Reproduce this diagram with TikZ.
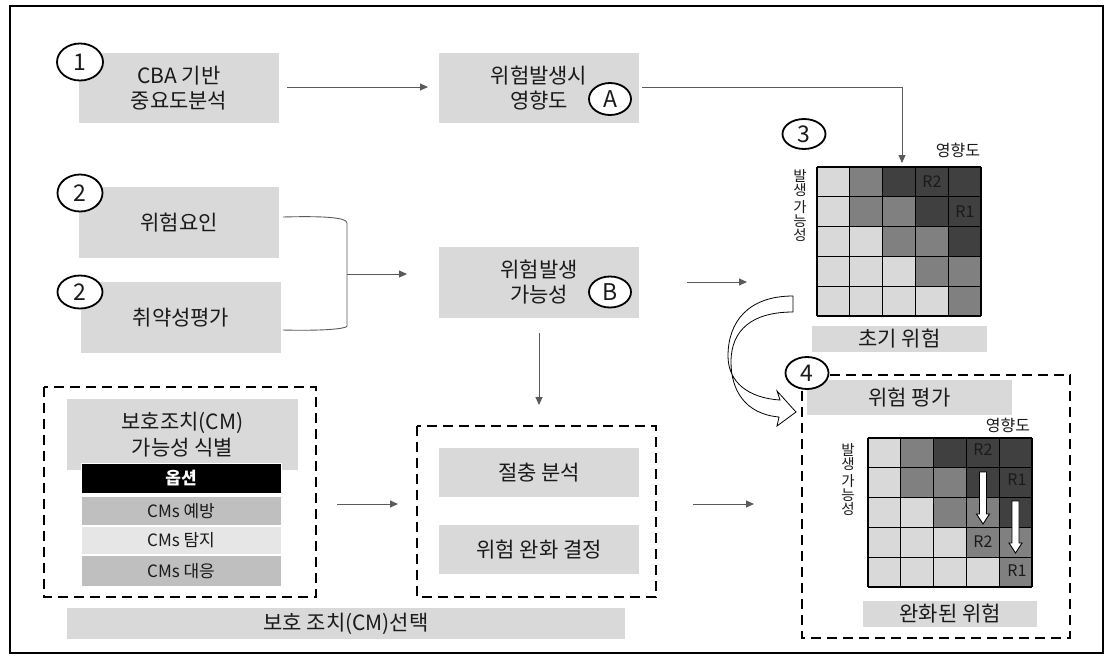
\documentclass[tikz,border=0pt]{standalone}
\usepackage{fontspec}
\setmainfont{Noto Sans CJK KR}
\usetikzlibrary{arrows.meta,shapes.geometric}
\definecolor{boxg}{HTML}{D9D9D9}
\definecolor{cL}{HTML}{D9D9D9}
\definecolor{cM}{HTML}{808080}
\definecolor{cD}{HTML}{404040}
\definecolor{cmg}{HTML}{BFBFBF}
\definecolor{cml}{HTML}{E6E6E6}
\definecolor{txt}{HTML}{1A1A1A}
\definecolor{ln}{HTML}{5A5A5A}
\newcommand\riskgrid[2]{%
  \begin{scope}[shift={(#1,#2)},x=32.8pt,y=-29.8pt]
    \foreach \c [count=\i from 0] in {cL,cM,cD,cD,cD} \fill[\c] (\i,0) rectangle ++(1,1);
    \foreach \c [count=\i from 0] in {cL,cM,cM,cD,cD} \fill[\c] (\i,1) rectangle ++(1,1);
    \foreach \c [count=\i from 0] in {cL,cL,cM,cM,cD} \fill[\c] (\i,2) rectangle ++(1,1);
    \foreach \c [count=\i from 0] in {cL,cL,cL,cM,cM} \fill[\c] (\i,3) rectangle ++(1,1);
    \foreach \c [count=\i from 0] in {cL,cL,cL,cL,cM} \fill[\c] (\i,4) rectangle ++(1,1);
    \foreach \k in {0,...,5} {
      \draw[line width=1.1pt] (\k,0) -- (\k,5);
      \draw[line width=1.1pt] (0,\k) -- (5,\k);
    }
  \end{scope}}
\begin{document}
\begin{tikzpicture}[x=1pt,y=-1pt,
  gbox/.style={fill=boxg, draw=none, inner sep=0pt, align=center, text=txt,
    font=\fontsize{21}{25}\selectfont},
  num/.style={ellipse, draw=black, line width=1.8pt, fill=white, inner sep=0pt,
    text=txt, font=\fontsize{23}{23}\selectfont},
  dbox/.style={draw=black, line width=2.4pt, dash pattern=on 10pt off 6pt},
  arr/.style={draw=ln, line width=0.9pt, -{Triangle[length=8pt,width=7pt]}},
  cmbox/.style={draw=white, line width=1pt, inner sep=0pt, minimum width=200pt,
    text=txt, font=\fontsize{17}{18}\selectfont},
  lbl/.style={inner sep=0pt, text=txt, font=\fontsize{16}{16}\selectfont},
  vlbl/.style={inner sep=0pt, align=center, text=txt, font=\fontsize{14.5}{14}\selectfont},
  warrow/.style={draw=black, line width=0.9pt, fill=white}
]
\useasboundingbox (0,0) rectangle (1116,662);
\fill[white] (0,0) rectangle (1116,662);
\draw[line width=2pt] (10,6) rectangle (1103,653);

% dashed groups
\draw[dbox] (44,387) rectangle (316,597);
\draw[dbox] (417,426) rectangle (656,597);
\draw[dbox] (802,375) rectangle (1070,638);

% top boxes
\node[gbox, minimum width=200pt, minimum height=70pt] (cba) at (179,88) {CBA 기반\\중요도분석};
\node[gbox, minimum width=200pt, minimum height=70pt] (imp) at (539,88) {위험발생시\\영향도};
\node[gbox, minimum width=200pt, minimum height=71pt] (thr) at (179,222.5) {위험요인};
\node[gbox, minimum width=200pt, minimum height=71pt] (vul) at (181,317.5) {취약성평가};
\node[gbox, minimum width=200pt, minimum height=71pt] (lik) at (539,282.5) {위험발생\\가능성};

% left group
\node[gbox, minimum width=231pt, minimum height=71pt] (cmid) at (182.5,434.5) {보호조치(CM)\\[1pt]가능성 식별};
\node[cmbox, fill=black, text=white, minimum height=30pt, font=\bfseries\fontsize{17}{18}\selectfont] (opt) at (181,478.5) {옵션};
\node[cmbox, fill=cmg, minimum height=29pt] (cm1) at (181,511) {CMs 예방};
\node[cmbox, fill=cml, minimum height=28pt] (cm2) at (181,540.5) {CMs 탐지};
\node[cmbox, fill=cmg, minimum height=31pt] (cm3) at (181,571) {CMs 대응};

% middle group
\node[gbox, minimum width=200pt, minimum height=49pt] (tra) at (539,472.5) {절충 분석};
\node[gbox, minimum width=200pt, minimum height=49pt] (dec) at (539,549.5) {위험 완화 결정};
\node[gbox, minimum width=558pt, minimum height=31pt] (sel) at (346,623.5) {보호 조치(CM)선택};

% right side
\riskgrid{817}{167}
\riskgrid{868}{438}
\node[lbl] (g3imp) at (958,150) {영향도};
\node[vlbl] (g3lik) at (800,206) {발\\생\\[3pt]가\\능\\성};
\node[lbl] (g3r2) at (932,182) {R2};
\node[lbl] (g3r1) at (965,212) {R1};
\node[gbox, minimum width=175pt, minimum height=26pt] (init) at (899.5,339) {초기 위험};

\node[gbox, minimum width=205pt, minimum height=35pt] (eval) at (909.5,397.5) {위험 평가};
\node[lbl] (g4imp) at (1008,425) {영향도};
\node[vlbl] (g4lik) at (848,480) {발\\생\\[3pt]가\\능\\성};
\node[lbl] (g4r2a) at (983,450) {R2};
\node[lbl] (g4r1a) at (1017,480) {R1};
\node[lbl] (g4r2b) at (983,542) {R2};
\node[lbl] (g4r1b) at (1017,571) {R1};
\node[gbox, minimum width=174pt, minimum height=26pt] (mit) at (950,614) {완화된 위험};

% white block arrows in mitigated grid
\draw[warrow] (979.5,472) -- (986.5,472) -- (986.5,514) -- (989.5,514) -- (983,524) -- (976.5,514) -- (979.5,514) -- cycle;
\draw[warrow] (1012,501) -- (1019,501) -- (1019,543) -- (1022,543) -- (1015.5,553) -- (1009,543) -- (1012,543) -- cycle;

% numbered circles
\node[num, minimum width=46pt, minimum height=37pt] (n1) at (80,62) {1};
\node[num, minimum width=45pt, minimum height=37pt] (n2a) at (80,193) {2};
\node[num, minimum width=45pt, minimum height=33pt] (n2b) at (80,292) {2};
\node[num, minimum width=42pt, minimum height=32pt] (na) at (610,99) {A};
\node[num, minimum width=42pt, minimum height=31pt] (nb) at (610,292) {B};
\node[num, minimum width=43pt, minimum height=30pt] (n3) at (804,134) {3};
\node[num, minimum width=43pt, minimum height=32pt] (n4) at (807,373) {4};

% connectors
\coordinate (c1o) at (287,87);
\coordinate (aai) at (428,87);
\coordinate (aao) at (642,87);
\coordinate (aturn) at (902,87);
\coordinate (atip) at (902,163);
\draw[arr] (c1o) -- (aai);
\draw[draw=ln, line width=0.9pt] (aao) -- (aturn);
\draw[arr] (aturn) -- (atip);

\coordinate (bt0) at (283,217);
\coordinate (bb0) at (283,330);
\coordinate (brt) at (347,274);
\coordinate (bri) at (407,274);
\draw[draw=ln, line width=0.9pt] (bt0) .. controls (320,216) and (347,217) .. (347,223)
  -- (347,326) .. controls (347,329) and (320,331) .. (bb0);
\draw[arr] (brt) -- (bri);

\coordinate (bgo) at (687,282);
\coordinate (bgi) at (747,282);
\draw[arr] (bgo) -- (bgi);
\coordinate (bdo) at (539,333);
\coordinate (bdi) at (539,405);
\draw[arr] (bdo) -- (bdi);
\coordinate (lgr) at (337,504);
\coordinate (mgl) at (398,504);
\draw[arr] (lgr) -- (mgl);
\coordinate (mgr) at (693,504);
\coordinate (rgl) at (754,504);
\draw[arr] (mgr) -- (rgl);

% curved block arrow
\draw[warrow, line width=0.8pt] (793,296) .. controls (748,296) and (728,322) .. (728,356)
  .. controls (728,382) and (748,398) .. (780,400) -- (777,391) -- (796,412) -- (777,426) -- (779,417)
  .. controls (745,414) and (731,390) .. (731,362) .. controls (731,330) and (752,312) .. (793,312) -- cycle;
\end{tikzpicture}
\end{document}
